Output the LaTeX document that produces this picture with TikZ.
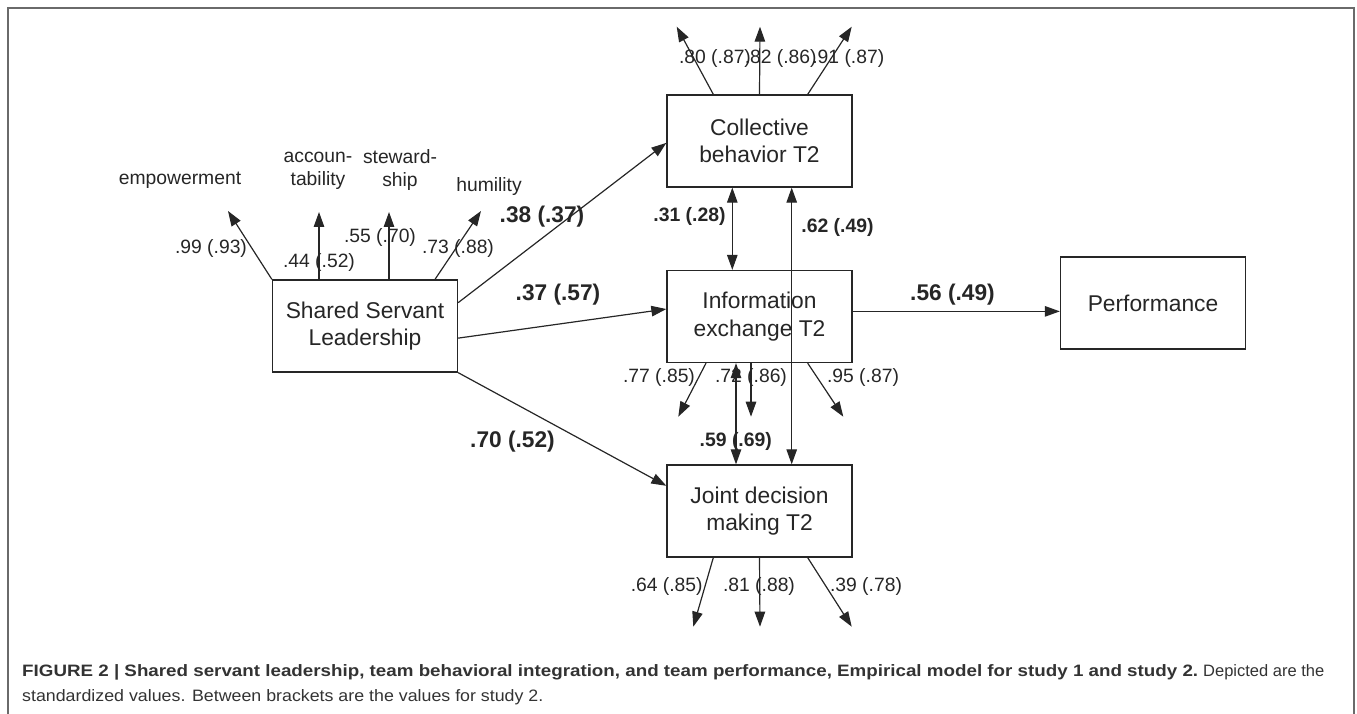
\documentclass[tikz,border=0pt]{standalone}
\usepackage{fontspec}
\setmainfont{Liberation Sans}
\usetikzlibrary{arrows.meta,calc}
\definecolor{ink}{HTML}{262626}
\definecolor{framec}{HTML}{6A6A6A}
\definecolor{capc}{HTML}{333333}
\begin{document}
\begin{tikzpicture}[x=1pt,y=-1pt,
  box/.style={draw=ink, line width=1.3pt, minimum width=185pt, minimum height=92pt, align=center, inner sep=0pt, font=\fontsize{22.8}{27.6}\selectfont, text=ink},
  tip/.tip={Triangle[length=15pt,width=10.5pt]},
  conn/.style={draw=ink, line width=1.2pt, -tip},
  dconn/.style={draw=ink, line width=1.2pt, tip-tip},
  lab/.style={font=\fontsize{19.3}{23}\selectfont, text=ink, inner sep=0pt, align=center},
  blab/.style={font=\bfseries\fontsize{22.7}{26}\selectfont, text=ink, inner sep=0pt},
  sblab/.style={font=\bfseries\fontsize{19.4}{23}\selectfont, text=ink, inner sep=0pt},
  capt/.style={font=\fontsize{16.5}{20}\selectfont, text=capc, inner sep=0pt},
]
\useasboundingbox (0,0) rectangle (1357,714);
\draw[framec, line width=1.5pt] (8,714) -- (8,8) -- (1354,8) -- (1354,714);

% boxes
\node[box] (ssl)  at (365,326)   {Shared Servant\\Leadership};
\node[box] (cb)   at (759.5,141) {Collective\\behavior T2};
\node[box] (ie)   at (759.5,316.5) {Information\\exchange T2};
\node[box] (jdm)  at (759.5,511) {Joint decision\\making T2};
\node[box] (perf) at (1153,303)  {Performance};

% indicator labels
\node[lab] (lemp) at (180,180) {empowerment};
\node[lab] (lacc) at (318,170.5) {accoun-\\tability};
\node[lab] (lste) at (400,170.5) {steward-\\ship};
\node[lab] (lhum) at (489,187) {humility};

% free ends
\coordinate (iemp) at (228,211);
\coordinate (iacc) at (319,212);
\coordinate (iste) at (389,212);
\coordinate (ihum) at (481,211);
\coordinate (cbe1) at (676.7,26.7);
\coordinate (cbe2) at (760,26.7);
\coordinate (cbe3) at (851.7,26.7);
\coordinate (iee1) at (678.3,416.7);
\coordinate (iee2) at (751,416.7);
\coordinate (iee3) at (843.3,416.7);
\coordinate (jde1) at (693.3,626.7);
\coordinate (jde2) at (760,626.7);
\coordinate (jde3) at (851.7,626.7);

% SSL indicators
\draw[conn] (ssl.north west) -- (iemp);
\draw[conn] ([xshift=-46pt]ssl.north) -- (iacc);
\draw[conn] ([xshift=24pt]ssl.north) -- (iste);
\draw[conn] ([xshift=70pt]ssl.north) -- (ihum);

% error arrows
\draw[conn] ([xshift=-46.2pt]cb.north) -- (cbe1);
\draw[conn] (cb.north) -- (cbe2);
\draw[conn] ([xshift=48.2pt]cb.north) -- (cbe3);
\draw[conn] ([xshift=-53.5pt]ie.south) -- (iee1);
\draw[conn] ([xshift=-8.5pt]ie.south) -- (iee2);
\draw[conn] ([xshift=48.2pt]ie.south) -- (iee3);
\draw[conn] ([xshift=-46.2pt]jdm.south) -- (jde1);
\draw[conn] (jdm.south) -- (jde2);
\draw[conn] ([xshift=48.2pt]jdm.south) -- (jde3);

% structural paths
\draw[conn] ($(ssl.north east)!0.25!(ssl.south east)$) -- ($(cb.north west)!0.52!(cb.south west)$);
\draw[conn] ($(ssl.north east)!0.63!(ssl.south east)$) -- ($(ie.north west)!0.42!(ie.south west)$);
\draw[conn] (ssl.south east) -- ($(jdm.north west)!0.23!(jdm.south west)$);
\coordinate (iep) at ($(ie.north east)!0.445!(ie.south east)$);
\draw[conn] (iep) -- (perf.west |- iep);

% correlations
\draw[dconn] ([xshift=-27.2pt]cb.south) -- ([xshift=-27.2pt]ie.north);
\draw[dconn] ([xshift=32.2pt]cb.south) -- ([xshift=32.2pt]jdm.north);
\draw[dconn] ([xshift=-23.5pt]ie.south) -- ([xshift=-23.5pt]jdm.north);

% loadings
\node[lab] (l99) at (211,249) {.99 (.93)};
\node[lab] (l44) at (319,263) {.44 (.52)};
\node[lab] (l55) at (380,238) {.55 (.70)};
\node[lab] (l73) at (458,249) {.73 (.88)};
\node[lab] (l80) at (715,58.3) {.80 (.87)};
\node[lab] (l82) at (780.7,58.3) {.82 (.86)};
\node[lab] (l91) at (848.3,58.3) {.91 (.87)};
\node[lab] (l77) at (659,378) {.77 (.85)};
\node[lab] (l72) at (751,378) {.72 (.86)};
\node[lab] (l95) at (863,378) {.95 (.87)};
\node[lab] (l64) at (666.7,586.7) {.64 (.85)};
\node[lab] (l81) at (759,586.7) {.81 (.88)};
\node[lab] (l39) at (866,586.7) {.39 (.78)};

% path coefficients
\node[blab] (p38) at (542,216.7) {.38 (.37)};
\node[blab] (p37) at (558,295) {.37 (.57)};
\node[blab] (p70) at (512.5,441.7) {.70 (.52)};
\node[blab] (p56) at (952.5,295) {.56 (.49)};
\node[sblab] (c31) at (689.5,216.7) {.31 (.28)};
\node[sblab] (c62) at (837.5,227.7) {.62 (.49)};
\node[sblab] (c59) at (735.8,441.7) {.59 (.69)};

% caption
\node[capt, anchor=base west] (cap1) at (22,676.7) {\resizebox{1176pt}{\height}{\textbf{FIGURE 2 | Shared servant leadership, team behavioral integration, and team performance, Empirical model for study 1 and study 2.}}};
\node[capt, anchor=base west] (cap1b) at (1203,676.7) {Depicted are the};
\node[capt, anchor=base west] (cap2) at (22,701.7) {\scalebox{1.079}[1]{standardized values. Between brackets are the values for study 2.}};
\end{tikzpicture}
\end{document}
